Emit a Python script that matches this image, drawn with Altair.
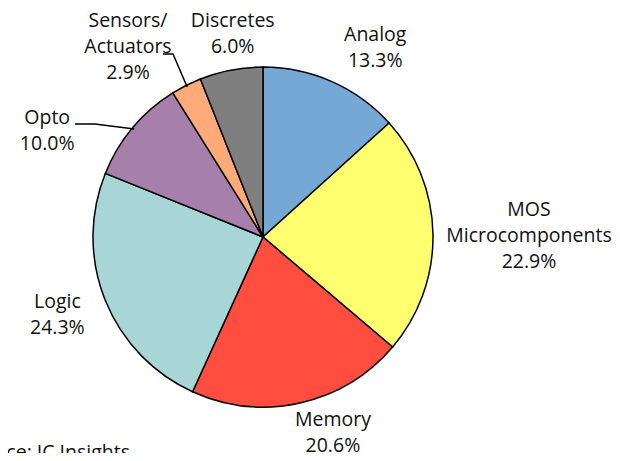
import math
import altair as alt
import pandas as pd

# ---- data ----
categories = ["Analog", "MOS\nMicrocomponents", "Memory", "Logic", "Opto",
              "Sensors/\nActuators", "Discretes"]
shares = [13.3, 22.9, 20.6, 24.3, 10.0, 2.9, 6.0]
colors = ["#75A8D5", "#FFFF70", "#FF4D3F", "#A8D5D5", "#A67FAA", "#FFAA78", "#7F7F7F"]
source_note = "Source: IC Insights"

# ---- layout (chart coords = page coords - 8) ----
CX, CY, R = 255, 229, 170
R_LABEL = 215
LH = 26
nudges = [(25, 7.5), (51, 2.4), (23, -14), (-6, -2), (-51, 32), (-38, 2), (10, 8)]
FONT = "Open Sans"
FS = 19.5

total = sum(shares)
rows = []
cum = 0.0
for i, (c, v) in enumerate(zip(categories, shares)):
    mid = (cum + v / 2) / total * 2 * math.pi
    cum += v
    label = f"{c}\n{v:.1f}%"
    nlines = label.count("\n") + 1
    lx = CX + R_LABEL * math.sin(mid) + nudges[i][0]
    ly = CY - R_LABEL * math.cos(mid) + nudges[i][1] - (nlines - 1) * LH / 2
    rows.append(dict(order=i, cat=c, value=v, label=label, lx=lx, ly=ly, mid=mid))
df = pd.DataFrame(rows)

pie = alt.Chart(df).mark_arc(stroke="black", strokeWidth=1.5, radius=R).encode(
    theta=alt.Theta("value:Q", stack=True, scale=alt.Scale(domain=[0, total])),
    order=alt.Order("order:O"),
    color=alt.Color("cat:N", scale=alt.Scale(domain=categories, range=colors), legend=None),
    x=alt.value(CX), y=alt.value(CY),
)

labels = alt.Chart(df).mark_text(
    font=FONT, fontSize=FS, lineBreak="\n", lineHeight=LH, color="#111111",
    align="center", baseline="middle",
).encode(
    x=alt.X("lx:Q", scale=None), y=alt.Y("ly:Q", scale=None), text="label:N"
)

# leader lines for Opto and Sensors/Actuators: label side -> elbow -> pie edge
lead_rows = []
for idx, start, elbow in [(4, (67, 116), (87, 116)), (5, (155, 46), (165, 46))]:
    m = df.loc[idx, "mid"]
    edge = (CX + (R - 2) * math.sin(m), CY - (R - 2) * math.cos(m))
    for k, p in enumerate([start, elbow, edge]):
        lead_rows.append(dict(g=idx, k=k, px=p[0], py=p[1]))
lead_df = pd.DataFrame(lead_rows)
leaders = alt.Chart(lead_df).mark_line(color="black", strokeWidth=1.5).encode(
    x=alt.X("px:Q", scale=None), y=alt.Y("py:Q", scale=None),
    detail="g:N", order="k:O"
)

src = alt.Chart(pd.DataFrame({"t": [source_note]})).mark_text(
    font=FONT, fontSize=FS, align="left", baseline="alphabetic", color="#111111"
).encode(x=alt.value(-44), y=alt.value(451), text="t:N")

chart = alt.layer(pie, leaders, labels, src).properties(
    width=604, height=445, autosize=alt.AutoSizeParams(type="none"), padding=0
).configure_view(stroke="transparent", strokeWidth=0)

chart.save("out.html", embed_options={"renderer": "svg", "actions": False})
